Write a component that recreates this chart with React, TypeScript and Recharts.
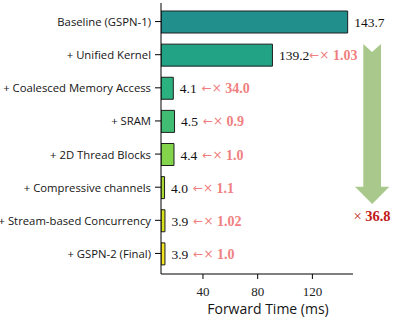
import { BarChart, Bar, XAxis, YAxis, Cell, LabelList, Customized } from 'recharts'

// stages of the optimisation, top to bottom
const stages = [
  'Baseline (GSPN-1)',
  '+ Unified Kernel',
  '+ Coalesced Memory Access',
  '+ SRAM',
  '+ 2D Thread Blocks',
  '+ Compressive channels',
  '+ Stream-based Concurrency',
  '+ GSPN-2 (Final)',
]
// bar lengths as drawn on the axis
const barValues = [145.8, 90.8, 18.3, 19.2, 18.8, 11.9, 12.2, 12.2]
// printed numbers next to the bars
const timeLabels = ['143.7', '139.2', '4.1', '4.5', '4.4', '4.0', '3.9', '3.9']
const speedups = ['', '1.03', '34.0', '0.9', '1.0', '1.1', '1.02', '1.0']
const barColors = ['#21908d', '#22a385', '#2bb07f', '#40bd72', '#84d44b', '#aad833', '#d6e21a', '#f4e524']
const xTicks = [40, 80, 120]
const totalSpeedup = '36.8'

const data = stages.map((name, i) => ({ name, value: barValues[i] }))

const serif = '"Liberation Serif", "Times New Roman", serif'
const sans = '"Open Sans", "Noto Sans", sans-serif'

function StageTick(props: any) {
  const { x, y, payload } = props
  return (
    <text x={x} y={y} textAnchor="end" dominantBaseline="central" fill="#151515" fontSize={11.3} fontFamily={sans}>
      {payload.value}
    </text>
  )
}

function ValueLabel(props: any) {
  const { x, y, width, height, index } = props
  const i = index ?? 0
  return (
    <text
      x={x + width + 6.5}
      y={y + height / 2}
      dominantBaseline="central"
      fontFamily={serif}
      fontSize={13.5}
    >
      <tspan fill="#111">{timeLabels[i]}</tspan>
      {speedups[i] && (
        <tspan fill="#f08080" fontSize={14} dx={i === 1 ? 0 : 5}>
          <tspan fontFamily='"DejaVu Sans", sans-serif' fontSize={12}>←×</tspan>
          <tspan fontWeight="bold"> {speedups[i]}</tspan>
        </tspan>
      )}
    </text>
  )
}

function BigArrow() {
  const pts = [
    [363.3, 44], [372, 52], [381, 44], [381, 186.7], [389.3, 186.7],
    [372.2, 204], [355, 186.7], [363.3, 186.7],
  ].map((p) => p.join(',')).join(' ')
  return (
    <g>
      <polygon points={pts} fill="#a8c98b" />
      <text x={372} y={216} textAnchor="middle" dominantBaseline="central" fontFamily={serif} fontSize={14.5} fill="#c21a1a">
        ×<tspan fontWeight="bold"> {totalSpeedup}</tspan>
      </text>
    </g>
  )
}

export default function App() {
  return (
    <div style={{ position: 'absolute', left: 0, top: 0, width: 396, height: 320, background: '#fff' }}>
      <BarChart
        width={396}
        height={320}
        data={data}
        layout="vertical"
        margin={{ top: 3, right: 43, left: 0, bottom: 0 }}
      >
        <XAxis
          type="number"
          domain={[9.3, 149.7]}
          ticks={xTicks}
          allowDataOverflow
          height={46}
          stroke="#000"
          tickSize={5}
          tickMargin={8}
          tick={{ fill: '#222', fontSize: 13, fontFamily: serif }}
          label={{ value: 'Forward Time (ms)', position: 'insideBottom', offset: 6, dx: 11, fill: '#151515', fontSize: 14, fontFamily: sans }}
        />
        <YAxis
          type="category"
          dataKey="name"
          width={161}
          stroke="#000"
          tickSize={6}
          tickMargin={4}
          padding={{ top: 2, bottom: 4 }}
          interval={0}
          tick={<StageTick />}
        />
        <Bar dataKey="value" barSize={22} stroke="#1e1e1e" strokeWidth={1} isAnimationActive={false}>
          {data.map((_, i) => (
            <Cell key={i} fill={barColors[i]} />
          ))}
          <LabelList dataKey="value" content={<ValueLabel />} />
        </Bar>
        <Customized component={<BigArrow />} />
      </BarChart>
    </div>
  )
}
